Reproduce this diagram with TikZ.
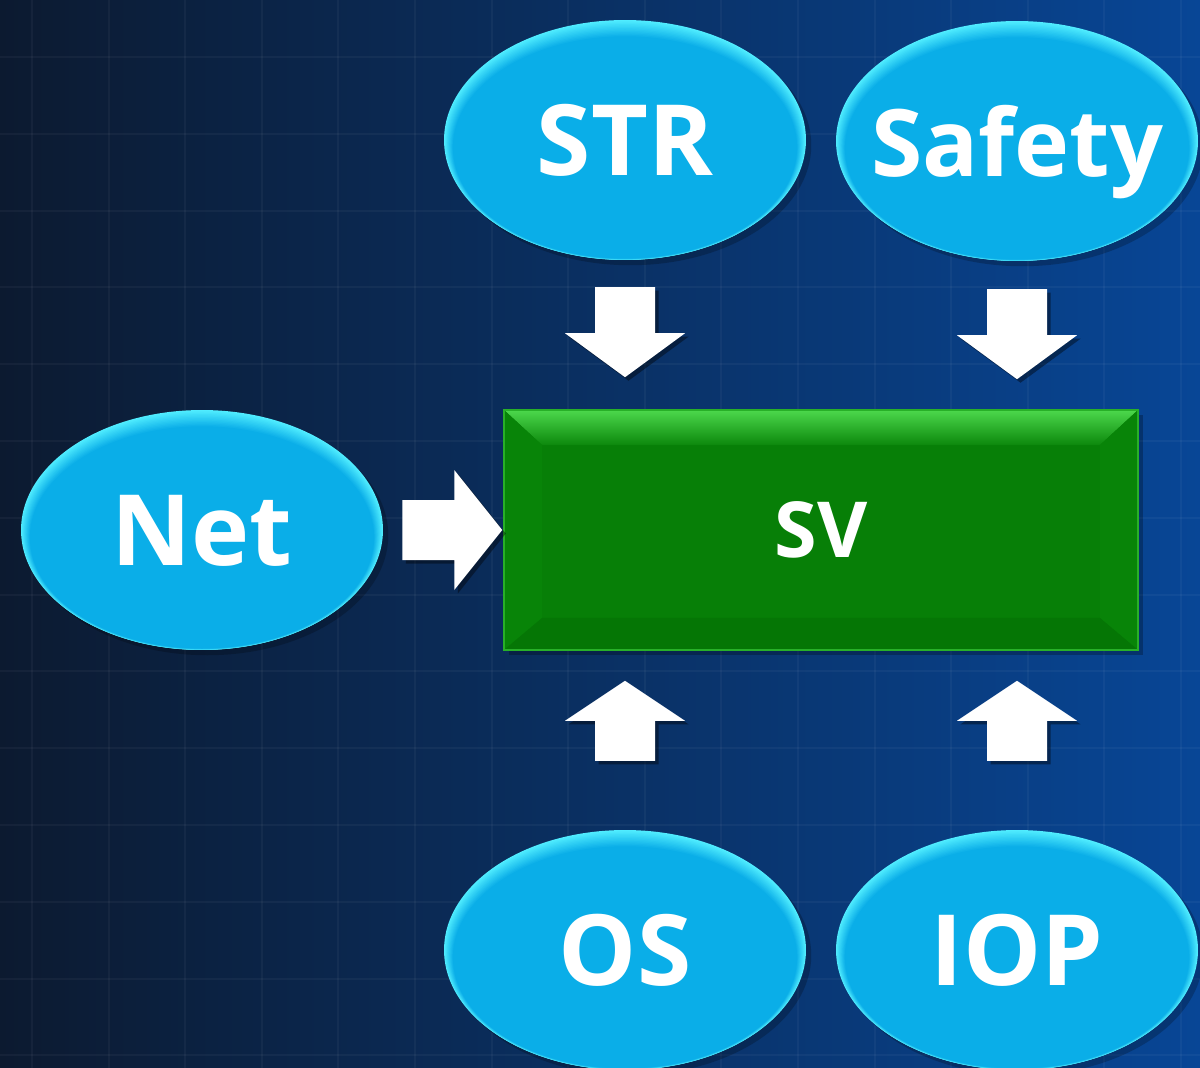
\documentclass[tikz,border=0pt]{standalone}
\usepackage{fontspec}
\newfontfamily\labelfont{Open Sans}
\usetikzlibrary{shapes.geometric,shadows,calc}

\definecolor{bgleft}{RGB}{12,26,48}
\definecolor{bgmid}{RGB}{10,42,96}
\definecolor{bgright}{RGB}{8,70,150}
\definecolor{ellbase}{RGB}{10,174,232}
\definecolor{ellrim}{RGB}{80,236,255}
\definecolor{boxgreen}{RGB}{7,127,7}
\definecolor{boxedge}{RGB}{40,176,40}
\definecolor{bevtop}{RGB}{76,216,76}
\definecolor{bevtoplow}{RGB}{12,136,12}
\definecolor{bevside}{RGB}{8,132,8}
\definecolor{bevbottom}{RGB}{5,118,5}

\tikzset{
  gridline/.style={white, opacity=0.04, line width=1.1pt},
  ellnode/.style={
    ellipse, minimum width=7.24cm, minimum height=4.8cm, inner sep=0pt,
    fill=ellrim,
    drop shadow={shadow xshift=3pt, shadow yshift=-3pt, opacity=0.22, fill=black},
    text=white, font=\labelfont\bfseries\fontsize{56}{60}\selectfont,
    text height=40pt, text depth=0pt,
    path picture={
      \foreach \k in {1,...,12}{
        \pgfmathsetmacro\mix{100-100*\k/12}
        \fill[ellrim!\mix!ellbase]
          ([yshift=-0.35*\k pt]path picture bounding box.center)
          ellipse [x radius={3.62cm-\k*0.42pt}, y radius={2.4cm-\k*0.42pt}];
      }
    }
  },
  svbox/.style={
    rectangle, minimum width=12.68cm, minimum height=4.8cm, inner sep=0pt,
    fill=boxgreen, draw=boxedge, line width=0.9pt,
    drop shadow={shadow xshift=3pt, shadow yshift=-3pt, opacity=0.25, fill=black},
    text=white, font=\labelfont\bfseries\fontsize{44}{48}\selectfont,
    text height=31.4pt, text depth=0pt,
    path picture={
      \coordinate (bnw) at (path picture bounding box.north west);
      \coordinate (bne) at (path picture bounding box.north east);
      \coordinate (bsw) at (path picture bounding box.south west);
      \coordinate (bse) at (path picture bounding box.south east);
      \shade[top color=bevtop, bottom color=bevtoplow]
        (bnw) -- (bne) -- ($(bne)+(-0.76cm,-0.7cm)$) -- ($(bnw)+(0.76cm,-0.7cm)$) -- cycle;
      \fill[bevside]
        (bnw) -- ($(bnw)+(0.76cm,-0.7cm)$) -- ($(bsw)+(0.76cm,0.64cm)$) -- (bsw) -- cycle;
      \fill[bevside]
        (bne) -- ($(bne)+(-0.76cm,-0.7cm)$) -- ($(bse)+(-0.76cm,0.64cm)$) -- (bse) -- cycle;
      \fill[bevbottom]
        (bsw) -- ($(bsw)+(0.76cm,0.64cm)$) -- ($(bse)+(-0.76cm,0.64cm)$) -- (bse) -- cycle;
    }
  },
  blockarrow/.style={fill=white,
    drop shadow={shadow xshift=2pt, shadow yshift=-2pt, opacity=0.4, fill=black}}
}

\begin{document}
\begin{tikzpicture}[x=0.02cm, y=-0.02cm]
\useasboundingbox (0,0) rectangle (1200,1068);

% backdrop with a faint grid
\shade[left color=bgleft, middle color=bgmid, right color=bgright] (0,0) rectangle (1200,1068);
\foreach \i in {0,...,15} \draw[gridline] ({32+76.6*\i},0) -- ++(0,1068);
\foreach \j in {0,...,13} \draw[gridline] (0,{57+76.8*\j}) -- ++(1200,0);

% central block and the surrounding inputs
\node[svbox] (sv) at (821,530) {SV};
\node[ellnode] (str)    at (625,140) {\makebox[0pt]{STR}};
\node[ellnode] (safety) at (1017,141) {\makebox[0pt]{\fontsize{53}{58}\selectfont Safety}};
\node[ellnode] (net)    at (202,530) {\makebox[0pt]{Net}};
\node[ellnode] (os)     at (625,950) {\makebox[0pt]{OS}};
\node[ellnode] (iop)    at (1017,950) {\makebox[0pt]{IOP}};

% arrow tips next to the block
\coordinate (tipstr)    at ($(sv.north -| str.south)+(0,-32)$);
\coordinate (tipsafety) at ($(sv.north -| safety.south)+(0,-30)$);
\coordinate (tipnet)    at ($(sv.west)+(-1,0)$);
\coordinate (tipos)     at ($(sv.south -| os.north)+(0,30)$);
\coordinate (tipiop)    at ($(sv.south -| iop.north)+(0,30)$);

% block arrows pointing into SV
\foreach \t in {tipstr,tipsafety}
  \path[blockarrow] (\t) -- ++(-60,-44) -- ++(30,0) -- ++(0,-46) -- ++(60,0)
    -- ++(0,46) -- ++(30,0) -- cycle;
\foreach \t in {tipos,tipiop}
  \path[blockarrow] (\t) -- ++(-60,40) -- ++(30,0) -- ++(0,40) -- ++(60,0)
    -- ++(0,-40) -- ++(30,0) -- cycle;
\path[blockarrow] (tipnet) -- ++(-48,-60) -- ++(0,30) -- ++(-52,0) -- ++(0,60)
  -- ++(52,0) -- ++(0,30) -- cycle;
\end{tikzpicture}
\end{document}
